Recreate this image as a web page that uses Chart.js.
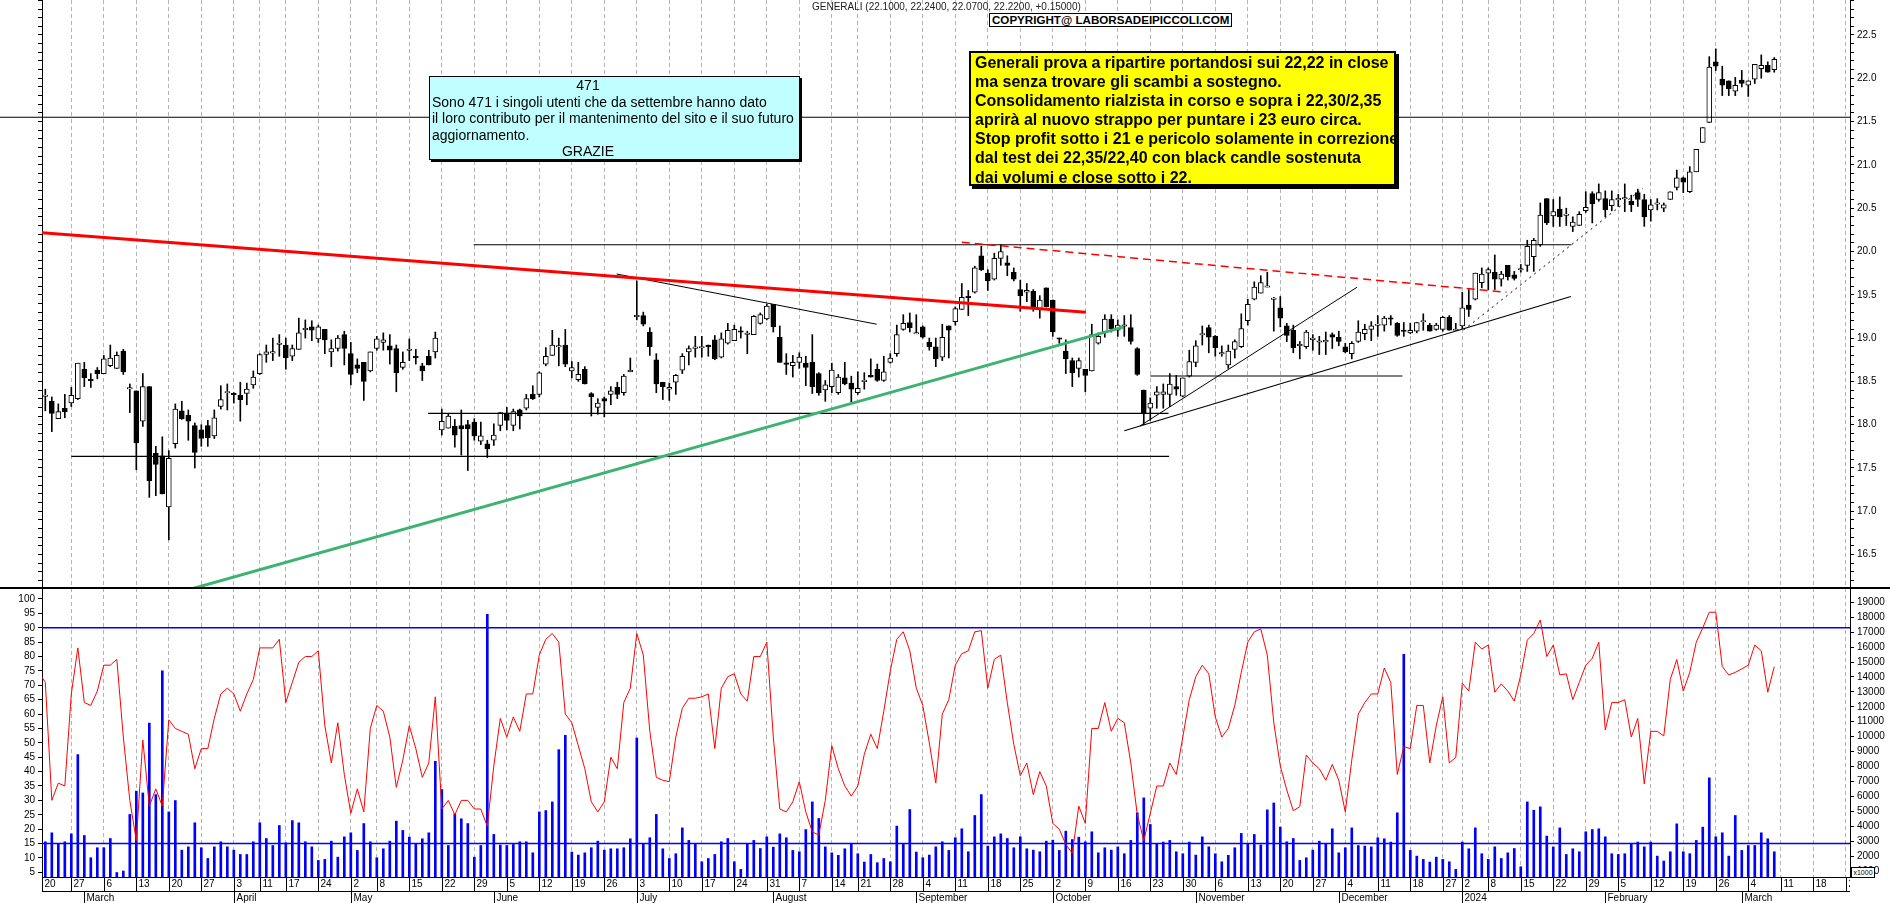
<!DOCTYPE html>
<html>
<head>
<meta charset="utf-8">
<title>Generali</title>
<script src="https://cdn.jsdelivr.net/npm/chart.js@4.4.1/dist/chart.umd.min.js"></script>
<style>
  html, body { margin: 0; padding: 0; background: #fff; }
  body { position: relative; width: 1890px; height: 903px; overflow: hidden; font-family: Arial, "Liberation Sans", sans-serif; }
  canvas { position: absolute; left: 0; }
  #priceChart { top: 0; }
  #oscChart { top: 588px; }
  #divider { position: absolute; left: 0; top: 587px; width: 1890px; height: 2px; background: #000; }
  #title { position: absolute; left: 812px; top: 1px; font-size: 10px; color: #222; white-space: nowrap; }
  #copy { position: absolute; left: 989px; top: 13px; padding: 0 2px; border: 1px solid #000; background: #fff;
          font: bold 11.6px Arial, "Liberation Sans", sans-serif; line-height: 12px; white-space: nowrap; }
  #thanks { position: absolute; left: 429px; top: 76px; width: 365px; height: 82px; padding: 0 2px;
            background: #c0ffff; border: 1px solid #000; box-shadow: 2px 2px 0 #000;
            font-size: 14px; line-height: 16.6px; white-space: nowrap; }
  #thanks .c { width: 312px; text-align: center; }
  #comment { position: absolute; left: 969px; top: 51px; width: 415px; height: 131px; padding: 0 4px;
             background: #ffff00; border: 2px solid #000; box-shadow: 3px 3px 0 #000;
             font: bold 16px Arial, "Liberation Sans", sans-serif; line-height: 19.1px; white-space: nowrap; }
  #x1000 { position: absolute; left: 1851px; top: 867px; width: 22px; height: 9px; border: 1px solid #000;
           background: #fff; font-size: 7px; line-height: 9px; text-align: center; }
</style>
</head>
<body>
<canvas id="priceChart" width="1890" height="588"></canvas>
<canvas id="oscChart" width="1890" height="315"></canvas>
<div id="divider"></div>
<div id="title">GENERALI (22.1000, 22.2400, 22.0700, 22.2200, +0.15000)</div>
<div id="copy">COPYRIGHT@ LABORSADEIPICCOLI.COM</div>
<div id="thanks"><div class="c">471</div>Sono 471 i singoli utenti che da settembre hanno dato<br>il loro contributo per il mantenimento del sito e il suo futuro<br>aggiornamento.<div class="c">GRAZIE</div></div>
<div id="comment">Generali prova a ripartire portandosi sui 22,22 in close<br>ma senza trovare gli scambi a sostegno.<br>Consolidamento rialzista in corso e sopra i 22,30/2,35<br>aprirà al nuovo strappo per puntare i 23 euro circa.<br>Stop profit sotto i 21 e pericolo solamente in correzione<br>dal test dei 22,35/22,40 con black candle sostenuta<br>dai volumi e close sotto i 22.</div>
<div id="x1000">x1000</div>
<script>
// Trading calendar (Borsa Italiana), index 0 = 20 Feb 2023
const holidays = ['2023-04-07', '2023-04-10', '2023-05-01', '2023-08-15', '2023-12-25', '2023-12-26', '2024-01-01'];
const monthNames = ['2024', 'February', 'March', 'April', 'May', 'June', 'July', 'August', 'September', 'October', 'November', 'December'];

const days = [];
for (let d = new Date(Date.UTC(2023, 1, 20)); d <= new Date(Date.UTC(2024, 2, 29)); d.setUTCDate(d.getUTCDate() + 1)) {
  const wd = d.getUTCDay();
  if (wd === 0 || wd === 6 || holidays.includes(d.toISOString().slice(0, 10))) continue;
  days.push(new Date(d));
}
const weekStarts = days.map((d, i) => i).filter(i => i === 0 || days[i].getUTCDay() < days[i - 1].getUTCDay());
const monthStarts = days.map((d, i) => i).filter(i => i > 0 && days[i].getUTCMonth() !== days[i - 1].getUTCMonth());

// Daily prices (first slot = 20 Feb, no bar shown)
const open = [null,
  18.33,18.27,18.07,18.19,18.25,18.30,18.64,18.52,18.63,18.59,
  18.68,18.65,18.85,18.42,18.39,18.04,18.44,17.67,17.64,17.05,
  17.78,18.16,18.11,17.99,17.94,17.99,17.87,18.21,18.37,18.36,
  18.34,18.36,18.46,18.59,18.81,18.83,18.93,18.92,18.79,18.87,
  19.10,19.13,18.99,19.10,18.84,18.88,19.04,18.82,18.69,18.72,
  18.62,18.88,18.95,18.91,18.88,18.66,18.86,18.79,18.68,18.79,
  18.84,17.94,17.96,17.98,17.99,18.00,18.03,17.81,17.78,17.82,
  17.99,18.12,17.99,18.17,18.19,18.35,18.35,18.70,18.80,18.90,
  18.92,18.62,18.52,18.64,18.36,18.20,18.30,18.35,18.43,18.37,
  18.62,19.25,19.26,19.07,18.75,18.49,18.41,18.49,18.63,18.84,
  18.89,18.89,18.92,18.98,18.78,18.94,18.97,19.08,19.05,19.04,
  19.17,19.22,19.39,19.01,18.71,18.68,18.72,18.71,18.72,18.59,
  18.40,18.44,18.37,18.54,18.48,18.37,18.50,18.57,18.64,18.51,
  18.72,18.82,19.10,19.18,19.05,19.13,18.95,18.90,18.78,19.14,
  19.19,19.33,19.48,19.53,19.95,19.75,19.68,19.92,19.87,19.76,
  19.56,19.53,19.54,19.33,19.58,19.44,19.00,18.85,18.74,18.65,
  18.64,18.62,18.94,19.07,19.22,19.09,19.14,19.12,18.88,18.40,
  18.19,18.34,18.35,18.35,18.44,18.33,18.56,18.72,19.04,19.12,
  19.02,18.82,18.69,18.87,18.90,19.20,19.45,19.52,19.59,19.45,
  19.35,19.14,19.09,18.92,18.90,18.98,18.96,18.96,19.04,19.01,
  18.90,18.82,18.96,19.05,19.10,19.15,19.15,19.23,19.17,19.09,
  19.06,19.08,19.19,19.15,19.10,19.10,19.24,19.09,19.14,19.38,
  19.45,19.64,19.75,19.76,19.68,19.84,19.73,19.79,19.84,19.94,
  20.08,20.61,20.41,20.49,20.42,20.29,20.30,20.47,20.67,20.60,
  20.61,20.53,20.60,20.61,20.58,20.68,20.60,20.48,20.55,20.50,
  20.60,20.74,20.85,20.69,20.92,21.26,21.49,22.19,21.99,21.97,
  21.85,21.98,21.92,21.99,22.11,22.15,22.10];
const high = [null,
  18.41,18.32,18.24,18.35,18.43,18.71,18.72,18.59,18.66,18.80,
  18.92,18.84,18.87,18.47,18.39,18.59,18.44,17.75,17.86,17.70,
  18.24,18.27,18.17,18.02,18.00,18.05,18.17,18.45,18.47,18.37,
  18.49,18.48,18.62,18.82,18.92,19.00,19.04,19.00,18.92,19.23,
  19.21,19.20,19.15,19.10,18.98,19.03,19.08,18.95,18.76,18.72,
  18.84,19.02,19.06,19.04,18.92,18.84,18.99,18.87,18.71,18.86,
  19.07,18.18,18.13,18.06,18.17,18.05,18.07,18.03,17.82,18.01,
  18.14,18.20,18.18,18.18,18.35,18.45,18.61,18.89,19.09,19.00,
  19.10,18.73,18.72,18.67,18.37,18.30,18.32,18.44,18.49,18.58,
  18.77,19.66,19.30,19.12,18.82,18.49,18.48,18.58,18.82,18.91,
  19.02,19.02,18.92,19.03,19.06,19.17,19.15,19.13,19.08,19.26,
  19.29,19.39,19.39,19.14,18.82,18.80,18.83,18.79,19.04,18.60,
  18.51,18.71,18.58,18.72,18.56,18.61,18.60,18.76,18.70,18.79,
  18.82,19.15,19.27,19.29,19.27,19.14,19.00,19.00,19.16,19.14,
  19.36,19.63,19.55,19.83,20.06,19.79,19.98,20.08,19.95,19.81,
  19.67,19.63,19.56,19.49,19.58,19.44,19.00,18.98,18.77,18.77,
  18.64,19.16,19.06,19.27,19.27,19.21,19.26,19.27,18.89,18.40,
  18.31,18.44,18.47,18.59,18.57,18.54,18.86,18.97,19.14,19.15,
  19.03,18.91,18.92,18.98,19.28,19.45,19.65,19.72,19.76,19.47,
  19.48,19.17,19.15,18.96,19.09,19.04,19.02,19.07,19.06,19.08,
  18.94,18.96,19.20,19.16,19.19,19.26,19.25,19.26,19.18,19.18,
  19.17,19.18,19.28,19.17,19.17,19.25,19.26,19.17,19.53,19.56,
  19.75,19.81,19.81,19.96,19.77,19.84,19.77,19.85,20.13,20.15,
  20.56,20.61,20.60,20.63,20.50,20.40,20.46,20.69,20.69,20.78,
  20.70,20.70,20.66,20.78,20.65,20.72,20.66,20.60,20.61,20.56,
  20.69,20.94,20.86,20.98,21.18,21.43,22.25,22.34,22.14,21.97,
  22.01,22.09,21.97,22.16,22.27,22.19,22.24];
const low = [null,
  18.16,17.92,18.07,18.08,18.21,18.29,18.44,18.43,18.53,18.59,
  18.67,18.65,18.58,18.14,17.48,17.98,17.16,17.18,17.20,16.67,
  17.73,18.06,17.82,17.50,17.75,17.75,17.84,18.18,18.17,18.25,
  18.04,18.23,18.42,18.58,18.72,18.74,18.79,18.64,18.74,18.87,
  19.00,18.97,18.95,18.82,18.67,18.85,18.69,18.46,18.60,18.28,
  18.61,18.86,18.86,18.70,18.38,18.64,18.74,18.70,18.51,18.69,
  18.77,17.88,17.96,17.74,17.65,17.47,17.82,17.77,17.62,17.76,
  17.93,17.94,17.93,17.95,18.17,18.29,18.32,18.68,18.80,18.68,
  18.67,18.54,18.50,18.47,18.10,18.12,18.09,18.23,18.30,18.34,
  18.61,19.21,19.14,18.80,18.37,18.29,18.28,18.35,18.59,18.69,
  18.78,18.78,18.79,18.75,18.77,18.93,18.97,19.00,18.82,19.04,
  19.16,19.21,19.07,18.72,18.58,18.55,18.65,18.45,18.36,18.34,
  18.27,18.37,18.35,18.46,18.26,18.35,18.41,18.55,18.50,18.50,
  18.71,18.79,19.09,19.07,19.05,19.00,18.86,18.67,18.74,18.77,
  19.15,19.33,19.26,19.52,19.78,19.55,19.67,19.84,19.72,19.66,
  19.31,19.42,19.31,19.23,19.36,19.02,18.94,18.59,18.44,18.55,
  18.38,18.62,18.93,19.01,19.07,19.02,19.02,18.93,18.57,18.00,
  18.05,18.19,18.19,18.21,18.34,18.32,18.55,18.67,18.92,18.83,
  18.79,18.79,18.65,18.77,18.89,19.15,19.44,19.52,19.59,19.08,
  19.13,18.96,18.83,18.76,18.88,18.86,18.81,18.81,18.88,18.91,
  18.83,18.76,18.95,18.98,18.97,19.02,19.08,19.15,19.02,19.02,
  19.05,19.06,19.09,19.08,19.09,19.08,19.09,19.09,19.11,19.25,
  19.44,19.58,19.56,19.56,19.60,19.67,19.67,19.76,19.77,19.77,
  20.06,20.31,20.29,20.29,20.30,20.23,20.30,20.45,20.33,20.58,
  20.40,20.47,20.52,20.46,20.46,20.52,20.29,20.35,20.48,20.46,
  20.60,20.71,20.68,20.68,20.92,21.26,21.49,22.09,21.80,21.80,
  21.80,21.90,21.79,21.94,22.00,22.07,22.07];
const close = [null,
  18.34,18.13,18.15,18.15,18.34,18.71,18.54,18.51,18.59,18.76,
  18.77,18.80,18.61,18.42,17.79,18.44,17.35,17.54,17.20,17.61,
  18.18,18.07,18.04,17.68,17.84,17.85,18.08,18.29,18.38,18.35,
  18.29,18.41,18.55,18.81,18.84,18.84,18.94,18.77,18.88,19.06,
  19.11,19.09,19.13,18.98,18.88,19.00,18.88,18.58,18.65,18.50,
  18.84,18.99,18.98,18.86,18.60,18.72,18.87,18.77,18.62,18.69,
  19.00,18.04,18.10,17.88,17.95,17.95,17.87,17.87,17.72,17.88,
  18.14,18.05,18.15,18.10,18.30,18.30,18.60,18.79,18.92,18.91,
  18.70,18.66,18.58,18.47,18.32,18.25,18.27,18.39,18.35,18.56,
  18.62,19.26,19.16,18.90,18.47,18.44,18.43,18.57,18.79,18.88,
  18.89,18.90,18.90,18.76,18.99,19.09,19.10,19.07,19.05,19.25,
  19.27,19.37,19.13,18.72,18.70,18.72,18.78,18.66,18.44,18.37,
  18.46,18.63,18.55,18.47,18.41,18.42,18.51,18.55,18.51,18.61,
  18.77,19.04,19.17,19.12,19.06,19.01,18.90,18.76,19.01,19.09,
  19.34,19.47,19.47,19.81,19.79,19.66,19.92,20.00,19.84,19.68,
  19.49,19.55,19.36,19.44,19.36,19.07,18.99,18.76,18.60,18.74,
  18.57,19.04,19.02,19.22,19.11,19.15,19.15,18.96,18.58,18.14,
  18.25,18.38,18.38,18.47,18.41,18.54,18.73,18.91,19.05,19.01,
  18.89,18.83,18.85,18.96,19.11,19.39,19.59,19.64,19.60,19.46,
  19.23,19.03,18.89,18.92,19.07,19.00,18.96,18.97,19.01,18.96,
  18.84,18.94,19.07,19.10,19.14,19.16,19.23,19.22,19.03,19.08,
  19.09,19.18,19.20,19.08,19.15,19.24,19.09,19.10,19.35,19.33,
  19.75,19.74,19.79,19.68,19.74,19.71,19.69,19.80,20.06,20.13,
  20.42,20.33,20.46,20.40,20.43,20.34,20.43,20.51,20.55,20.68,
  20.48,20.60,20.61,20.62,20.54,20.60,20.40,20.54,20.56,20.54,
  20.69,20.85,20.80,20.92,21.18,21.43,22.13,22.14,21.92,21.88,
  21.92,21.94,21.97,22.16,22.15,22.07,22.22];

// Volume (right scale) and oscillator (left scale, 0-100)
const volume = [null,
  2960,3560,2850,2960,3490,8800,3380,1890,2560,2560,
  3180,900,1000,4790,6350,6230,10910,6120,14410,4960,
  5720,2400,2620,4230,2560,1840,2620,2960,2620,2400,
  2110,2110,2960,4230,3180,2710,4050,2890,4380,4230,
  2960,2620,1710,1780,3000,1930,3290,3560,2380,4180,
  2960,1890,2490,3000,4340,3720,3270,2830,3160,3560,
  8350,6460,2710,4830,4500,4180,1930,2710,18200,3450,
  2740,2710,2780,2960,2960,2220,4960,5050,5630,9130,
  10090,2270,2070,2220,2560,3000,2400,2490,2490,2560,
  3160,9910,2830,3230,4790,2490,1840,2160,3890,3050,
  2850,1620,1840,2110,2960,3180,1620,1110,2830,3050,
  2510,3290,2600,3490,3230,2380,2290,3780,5630,4520,
  2620,2220,2050,2490,2850,2160,1600,2110,1560,1840,
  1620,4010,2850,5120,2270,1890,2070,2620,2960,2380,
  3230,3830,2290,4720,6120,2670,3290,3490,3180,2560,
  3290,2490,2400,2290,3000,3070,2380,3670,3110,3270,
  2960,3630,2220,2560,2400,2620,2160,3050,4900,5900,
  4120,2830,2940,3050,2290,2160,2940,2070,3290,2620,
  2160,1620,2050,2560,3520,2850,3450,2750,5100,5560,
  3940,2960,3180,1710,1890,2400,3000,2820,3830,2220,
  2560,3890,2710,2670,2620,3230,3160,2940,4900,15520,
  2380,2000,1780,1600,1930,1780,1620,1110,2940,2490,
  3890,2160,1780,2620,1840,2220,2510,1290,5630,5070,
  5300,3340,2620,3890,2110,2490,2290,3630,3780,3830,
  3290,2160,2110,2160,2850,2940,2620,2940,2000,1670,
  2290,4160,2290,2160,3050,3940,7240,3290,3560,2000,
  4720,2380,2710,2710,3560,3160,2290];
const oscillator = [74.5,
  71,30,36,35,67,83,64,63,68,77,
  77,79,52,30,16,51,28,34,28,58,
  55,54,53,41,48,48,58.5,67,69,67,
  61,67,72,83,83,83,86,64,71,78,
  80,80,82,56,43,57,39,25.5,34,26,
  55,63,61,52,34.5,44,56,48,38,43,
  66,27,30,25,30,30,27,27,21,42,
  58.5,52,59,54,67,67,80.5,86,88,85,
  60,57,49,41,29.5,26,29.5,45,41,64,
  69,88,80.5,54,38,37,36.5,52,62,65.5,
  65.5,66,67,48,69,73,74,67,64.5,80,
  80,85,52,27,26,29.5,36.5,26,19,18,
  30,49,41,35,31.5,35,46,53,48,61,
  75,86,88.6,82,69,63,50,36,60,65,
  77,81,82,88.6,89,69,79,80.5,64,49.5,
  38.6,43,32,40,35,22,20,14.7,11.6,28,
  22,55,55,64,54,58.5,57,43,25,16,
  25.5,35,35,43,39,52,65,73,77,74,
  59,52,55,63,74.5,85,88.6,89.6,80.5,57,
  42,33.6,26.4,27.8,45.8,43,41,37,42.5,37,
  26,44,60,64,67,67,76,71,39,48.7,
  48,63,63,43,56,66,43,45,70.7,68,
  85,82.6,84,67.6,70.5,68,64.5,73.6,85.7,88,
  92.7,80,84,73.6,74,65,71,77,79.4,85,
  54.5,64,64,65,52,58.5,35.7,54,54,52.4,
  72,79,68,74.5,85,90,95.4,95.4,76.5,73.6,
  74.5,75.7,77,84,82,67.6,76.5];

// Hand-drawn analysis lines: [dayIndex, price] end points
const resistance2155 = [[-6, 21.55], [278.65, 21.55]];
const redTrend = [[0.45, 20.217], [161.1, 19.298]];
const redDashed = [[142, 20.106], [225.8, 19.53]];
const greenTrend = [[20, 16.03], [166.8, 19.127]];
const julyDown = [[88.9, 19.74], [128.9, 19.16]];
const level2007 = [[66.9, 20.078], [235.8, 20.078]];
const level1813 = [[59.9, 18.13], [173.8, 18.13]];
const level1763 = [[5, 17.634], [173.9, 17.634]];
const level1856 = [[171, 18.562], [209.8, 18.562]];
const octUp = [[169.4, 17.985], [202.8, 19.587]];
const octSupport = [[167, 17.93], [235.7, 19.48]];
const janDotted = [[219.2, 19.094], [246.8, 20.73]];
const oscBands = [90, 15];

const X_MIN = 0.49, X_MAX = 278.65;
const P_MIN = 16.114, P_MAX = 22.904;
const O_MIN = 3.37, O_MAX = 103.82;
const V_MIN = 600, V_MAX = 19958;

const FONT = { family: 'Arial, "Liberation Sans", sans-serif', size: 10 };
const pts = arr => arr.map(p => ({ x: p[0], y: p[1] }));
const range = (a, b, s) => { const r = []; for (let v = a; v <= b + 1e-9; v += s) r.push(+v.toFixed(2)); return r; };

function weekScale() {
  return {
    type: 'linear', min: X_MIN, max: X_MAX, offset: false,
    afterBuildTicks: s => { s.ticks = weekStarts.filter(i => i >= X_MIN && i <= X_MAX).map(i => ({ value: i })); },
    afterFit: s => { s.height = 0; s.paddingLeft = 0; s.paddingRight = 0; },
    ticks: { display: false },
    grid: { color: '#b4b4b4', drawTicks: false, offset: false },
    border: { display: false, dash: [4, 3] }
  };
}
function sideScale(pos, width, min, max, values, label) {
  return {
    type: 'linear', position: pos, min, max,
    afterBuildTicks: s => { s.ticks = values.map(v => ({ value: v })); },
    afterFit: s => { s.width = width; s.paddingTop = 0; s.paddingBottom = 0; },
    ticks: { display: !!label, autoSkip: false, font: FONT, color: '#000', padding: 3, callback: label || (() => '') },
    grid: { drawOnChartArea: false, drawTicks: true, tickLength: 4, color: '#000' },
    border: { display: true, color: '#000', width: 1 }
  };
}
function line(data, color, width, dash, axis) {
  return { type: 'line', data: pts(data), borderColor: color, borderWidth: width, borderDash: dash || [],
           pointRadius: 0, yAxisID: axis || 'y', order: 0 };
}

// Candles: wick and body as floating bars
const wicks = [], bodies = [];
close.forEach((c, i) => {
  if (c == null) return;
  const o = open[i];
  wicks.push({ x: i, y: [Math.min(low[i], o, c), Math.max(high[i], o, c)] });
  let a = Math.min(o, c), b = Math.max(o, c);
  if (b - a < 0.016) { const m = (a + b) / 2; a = m - 0.008; b = m + 0.008; }
  bodies.push({ x: i, y: [a, b], up: c >= o });
});

const priceTicks = range(16.2, 22.9, 0.1);
const isHalf = v => Math.abs(v * 2 - Math.round(v * 2)) < 1e-6;

new Chart(document.getElementById('priceChart'), {
  type: 'bar',
  data: {
    datasets: [
      { data: wicks, backgroundColor: '#000', borderWidth: 0, barThickness: 1, grouped: false, order: 3 },
      { data: bodies, backgroundColor: ctx => (ctx.raw && ctx.raw.up ? '#fff' : '#000'), borderColor: '#000',
        borderWidth: 1, borderSkipped: false, barThickness: 5, grouped: false, order: 2 },
      Object.assign(line(resistance2155, '#000', 1.2), { clip: false }),
      line(redTrend, '#ff0000', 3),
      line(redDashed, '#ff0000', 1.5, [8, 5]),
      line(greenTrend, '#3cb371', 3),
      line(julyDown, '#000', 1),
      line(level2007, '#000', 1.2),
      line(level1813, '#000', 1.2),
      line(level1763, '#000', 1.2),
      line(level1856, '#000', 1.2),
      line(octUp, '#000', 1),
      line(octSupport, '#000', 1.2),
      line(janDotted, '#000', 1, [2, 4])
    ]
  },
  options: {
    responsive: false, animation: false, events: [],
    layout: { padding: 0 },
    plugins: { legend: { display: false }, tooltip: { enabled: false } },
    scales: {
      x: weekScale(),
      y: sideScale('right', 40, P_MIN, P_MAX, priceTicks, v => (isHalf(v) ? v.toFixed(1) : '')),
      yl: sideScale('left', 42, P_MIN, P_MAX, priceTicks, null)
    }
  }
});

// Day / month rows under the lower panel
const axisRows = {
  id: 'axisRows',
  afterDraw(chart) {
    const { ctx, chartArea: a, scales: { x } } = chart;
    const top = a.bottom, mid = a.bottom + 14, bot = chart.height;
    ctx.save();
    ctx.strokeStyle = '#000';
    ctx.lineWidth = 1;
    ctx.beginPath();
    ctx.moveTo(a.left, top + 0.5); ctx.lineTo(a.right, top + 0.5);
    ctx.moveTo(a.left, mid + 0.5); ctx.lineTo(a.right, mid + 0.5);
    ctx.stroke();
    ctx.beginPath(); ctx.rect(a.left, top, a.right - a.left, bot - top); ctx.clip();
    ctx.fillStyle = '#000';
    ctx.textBaseline = 'middle';
    ctx.textAlign = 'left';
    ctx.font = '10px Arial, "Liberation Sans", sans-serif';
    weekStarts.forEach(i => {
      const px = Math.round(Math.max(x.getPixelForValue(i), a.left)) + 0.5;
      if (px > a.right + 1) return;
      ctx.beginPath(); ctx.moveTo(px, top); ctx.lineTo(px, mid); ctx.stroke();
      ctx.fillText(String(days[i].getUTCDate()), px + 2, top + 7.5);
    });
    monthStarts.forEach(i => {
      const px = Math.round(x.getPixelForValue(i)) + 0.5;
      if (px > a.right + 1) return;
      ctx.beginPath(); ctx.moveTo(px, mid); ctx.lineTo(px, bot); ctx.stroke();
      ctx.fillText(monthNames[days[i].getUTCMonth()], px + 2, mid + 7.5);
    });
    ctx.restore();
  }
};

new Chart(document.getElementById('oscChart'), {
  type: 'bar',
  data: {
    datasets: [
      { type: 'line', data: oscillator.map((v, i) => ({ x: i, y: v })), borderColor: '#ff0000', borderWidth: 1,
        pointRadius: 0, yAxisID: 'yl', order: 0 },
      ...oscBands.map(v => Object.assign(line([[X_MIN, v], [X_MAX, v]], '#0000ff', 1.5, null, 'yl'), { order: 1 })),
      { data: volume.map((v, i) => ({ x: i, y: v })), backgroundColor: '#0000ff', barThickness: 2,
        grouped: false, yAxisID: 'yr', order: 2 }
    ]
  },
  options: {
    responsive: false, animation: false, events: [],
    layout: { padding: { bottom: 26 } },
    plugins: { legend: { display: false }, tooltip: { enabled: false } },
    scales: {
      x: weekScale(),
      yl: sideScale('left', 42, O_MIN, O_MAX, range(5, 100, 5), v => String(Math.round(v))),
      yr: sideScale('right', 40, V_MIN, V_MAX, range(1000, 19000, 1000), v => String(Math.round(v)))
    }
  },
  plugins: [axisRows]
});
</script>
</body>
</html>
